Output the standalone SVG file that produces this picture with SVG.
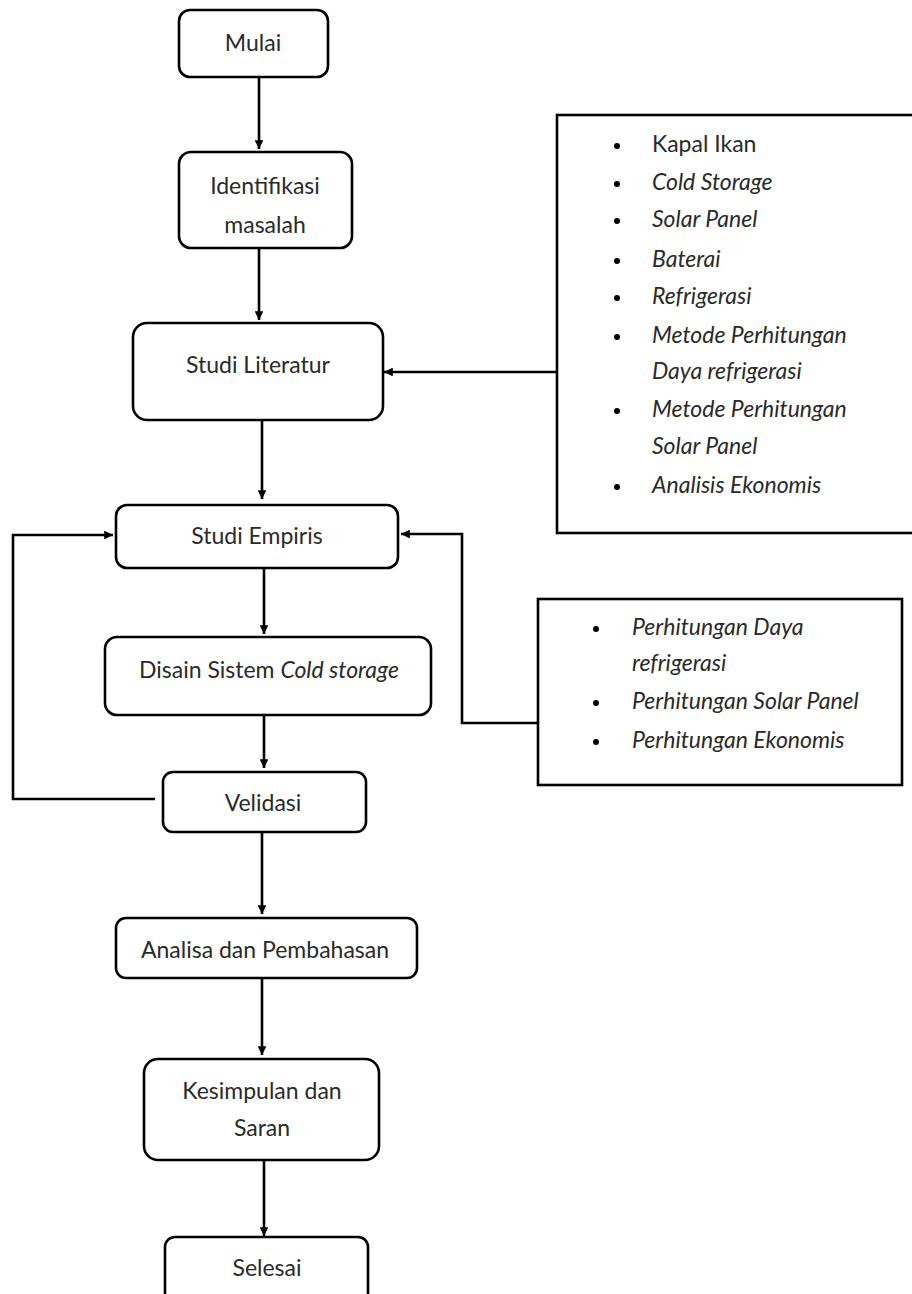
<svg xmlns="http://www.w3.org/2000/svg" width="912" height="1294" viewBox="0 0 912 1294">
<defs>
<style>
.box{fill:#fff;stroke:#000;stroke-width:2.6}
.t{font-family:Lato,"Liberation Sans",sans-serif;font-size:23px;fill:#2a2a2a;text-anchor:middle}
.li{font-family:Lato,"Liberation Sans",sans-serif;font-size:23px;fill:#2a2a2a;font-style:italic}
.ln{font-style:normal}
.c{fill:none;stroke:#000;stroke-width:2.6}
.dot{fill:#000}
</style>
<marker id="ah" viewBox="0 0 10 10" refX="10" refY="5" markerWidth="3.4" markerHeight="3.4" orient="auto" markerUnits="strokeWidth">
<path d="M0,0 L10,5 L0,10 z" fill="#000"/>
</marker>
</defs>
<rect width="912" height="1294" fill="#fff"/>

<g id="connectors">
<path class="c" d="M259,77 V149" marker-end="url(#ah)"/>
<path class="c" d="M259,248 V320" marker-end="url(#ah)"/>
<path class="c" d="M557,372 H384" marker-end="url(#ah)"/>
<path class="c" d="M262,420 V499" marker-end="url(#ah)"/>
<path class="c" d="M538,723 H462 V534 H401" marker-end="url(#ah)"/>
<path class="c" d="M155,799 H13 V535 H113" marker-end="url(#ah)"/>
<path class="c" d="M264,568 V634" marker-end="url(#ah)"/>
<path class="c" d="M264,715 V768" marker-end="url(#ah)"/>
<path class="c" d="M262,832 V914" marker-end="url(#ah)"/>
<path class="c" d="M262,978 V1055" marker-end="url(#ah)"/>
<path class="c" d="M264,1160 V1236" marker-end="url(#ah)"/>
</g>

<g id="mulai">
<rect class="box" x="179" y="10" width="149" height="67" rx="11"/>
<text class="t" x="253" y="51">Mulai</text>
</g>
<g id="identifikasi">
<rect class="box" x="179" y="152" width="173" height="96" rx="12"/>
<text class="t" x="265" y="194">Identifikasi</text>
<text class="t" x="265" y="233">masalah</text>
</g>
<g id="studi-literatur">
<rect class="box" x="133" y="323" width="250" height="97" rx="14"/>
<text class="t" x="258" y="373">Studi Literatur</text>
</g>
<g id="studi-empiris">
<rect class="box" x="116" y="505" width="282" height="63" rx="11"/>
<text class="t" x="257" y="544">Studi Empiris</text>
</g>
<g id="disain">
<rect class="box" x="105" y="637" width="326" height="78" rx="12"/>
<text class="t" x="269" y="678">Disain Sistem <tspan font-style="italic">Cold storage</tspan></text>
</g>
<g id="velidasi">
<rect class="box" x="163" y="772" width="203" height="60" rx="10"/>
<text class="t" x="263" y="811">Velidasi</text>
</g>
<g id="analisa">
<rect class="box" x="116" y="918" width="301" height="60" rx="10"/>
<text class="t" x="265" y="958">Analisa dan Pembahasan</text>
</g>
<g id="kesimpulan">
<rect class="box" x="144" y="1059" width="235" height="101" rx="14"/>
<text class="t" x="262" y="1099">Kesimpulan dan</text>
<text class="t" x="262" y="1136">Saran</text>
</g>
<g id="selesai">
<rect class="box" x="165" y="1237" width="203" height="70" rx="10"/>
<text class="t" x="267" y="1276">Selesai</text>
</g>

<g id="literatur-list">
<rect class="box" x="557" y="115" width="360" height="418" rx="0"/>
<circle class="dot" cx="617" cy="146" r="3"/>
<circle class="dot" cx="617" cy="184" r="3"/>
<circle class="dot" cx="617" cy="221" r="3"/>
<circle class="dot" cx="617" cy="261" r="3"/>
<circle class="dot" cx="617" cy="298" r="3"/>
<circle class="dot" cx="617" cy="337" r="3"/>
<circle class="dot" cx="617" cy="411" r="3"/>
<circle class="dot" cx="617" cy="487" r="3"/>
<text class="li ln" x="652" y="152">Kapal Ikan</text>
<text class="li" x="652" y="190">Cold Storage</text>
<text class="li" x="652" y="227">Solar Panel</text>
<text class="li" x="652" y="267">Baterai</text>
<text class="li" x="652" y="304">Refrigerasi</text>
<text class="li" x="652" y="343">Metode Perhitungan</text>
<text class="li" x="652" y="379">Daya refrigerasi</text>
<text class="li" x="652" y="417">Metode Perhitungan</text>
<text class="li" x="652" y="454">Solar Panel</text>
<text class="li" x="652" y="493">Analisis Ekonomis</text>
</g>

<g id="empiris-list">
<rect class="box" x="538" y="599" width="364" height="186" rx="0"/>
<circle class="dot" cx="596" cy="629" r="3"/>
<circle class="dot" cx="596" cy="703" r="3"/>
<circle class="dot" cx="596" cy="742" r="3"/>
<text class="li" x="632" y="635">Perhitungan Daya</text>
<text class="li" x="632" y="671">refrigerasi</text>
<text class="li" x="632" y="709">Perhitungan Solar Panel</text>
<text class="li" x="632" y="748">Perhitungan Ekonomis</text>
</g>
</svg>
